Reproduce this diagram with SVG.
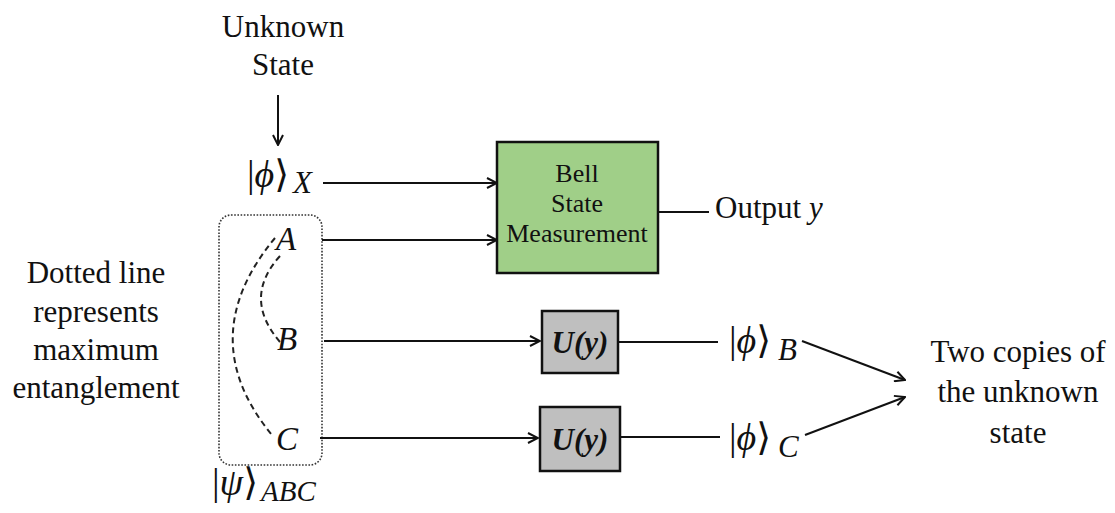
<svg xmlns="http://www.w3.org/2000/svg" width="1115" height="513" viewBox="0 0 1115 513" font-family="'Liberation Serif', 'Times New Roman', Tinos, 'DejaVu Serif', serif">
<defs>
<marker id="arr" markerWidth="12" markerHeight="12" viewBox="0 0 12 12" refX="11" refY="6" orient="auto" markerUnits="userSpaceOnUse">
<path d="M1,1 L11,6 L1,11" fill="none" stroke="#111" stroke-width="2"/>
</marker>
<style>
text{fill:#111}
.lbl{font-size:31px;text-anchor:middle}
.box{font-size:26px;text-anchor:middle}
.math{font-size:38px}
.it{font-style:italic}
.sub{font-size:31px;font-style:italic}
.uy{font-size:31px;font-weight:bold;font-style:italic;text-anchor:middle}
.ln{stroke:#111;stroke-width:2;fill:none}
.arw{stroke:#111;stroke-width:2;fill:none;marker-end:url(#arr)}
.dash{stroke:#222;stroke-width:2;fill:none;stroke-dasharray:6 4}
</style>
</defs>
<rect width="1115" height="513" fill="#fff"/>

<g id="unknown-state">
<text class="lbl" x="283" y="37">Unknown</text>
<text class="lbl" x="283" y="75">State</text>
</g>

<g id="phi-x">
<text class="math" x="247" y="187">|<tspan class="it">ϕ</tspan>⟩<tspan class="sub" dx="4" dy="6">X</tspan></text>
</g>

<g id="entangled-abc">
<rect x="219" y="215" width="103" height="250" rx="12" fill="none" stroke="#333" stroke-width="1.6" stroke-dasharray="1.6 1.6"/>
<text class="math it" x="276" y="250" style="font-size:33px">A</text>
<text class="math it" x="277" y="350" style="font-size:33px">B</text>
<text class="math it" x="276" y="450" style="font-size:33px">C</text>
<path class="dash" d="M275,238 Q192,338 272,435"/>
<path class="dash" d="M280,256 Q242,298 280,342"/>
</g>

<g id="psi-abc">
<text class="math" x="212" y="495">|<tspan class="it">ψ</tspan>⟩<tspan class="sub" dx="3" dy="6" style="font-size:29px">ABC</tspan></text>
</g>

<g id="dotted-note">
<text class="lbl" x="96" y="283">Dotted line</text>
<text class="lbl" x="96" y="322">represents</text>
<text class="lbl" x="96" y="360">maximum</text>
<text class="lbl" x="96" y="398">entanglement</text>
</g>

<g id="bell">
<rect x="497" y="142" width="161" height="131" fill="#a0cf88" stroke="#111" stroke-width="2.5"/>
<text class="box" x="577" y="182">Bell</text>
<text class="box" x="577" y="212">State</text>
<text class="box" x="577" y="242">Measurement</text>
</g>

<g id="output">
<text x="715" y="218" style="font-size:31px">Output <tspan class="it">y</tspan></text>
</g>

<g id="u1">
<rect x="542" y="311" width="76" height="62" fill="#bfbfbf" stroke="#111" stroke-width="2.5"/>
<text class="uy" x="580" y="353">U(y)</text>
</g>

<g id="u2">
<rect x="540" y="407" width="80" height="64" fill="#bfbfbf" stroke="#111" stroke-width="2.5"/>
<text class="uy" x="580" y="450">U(y)</text>
</g>

<g id="phi-b">
<text class="math" x="729" y="353">|<tspan class="it">ϕ</tspan>⟩<tspan class="sub" dx="7" dy="7">B</tspan></text>
</g>

<g id="phi-c">
<text class="math" x="729" y="450">|<tspan class="it">ϕ</tspan>⟩<tspan class="sub" dx="7" dy="7">C</tspan></text>
</g>

<g id="copies">
<text class="lbl" x="1018" y="362">Two copies of</text>
<text class="lbl" x="1018" y="402">the unknown</text>
<text class="lbl" x="1018" y="443">state</text>
</g>

<g id="connectors">
<line class="arw" x1="278" y1="95" x2="278" y2="145"/>
<line class="arw" x1="323" y1="183" x2="497" y2="183"/>
<line class="arw" x1="322" y1="240" x2="497" y2="240"/>
<line class="ln" x1="658" y1="212" x2="709" y2="212"/>
<line class="arw" x1="324" y1="341" x2="540" y2="341"/>
<line class="arw" x1="320" y1="438" x2="538" y2="438"/>
<line class="ln" x1="618" y1="342" x2="718" y2="342"/>
<line class="ln" x1="620" y1="437" x2="720" y2="437"/>
<line class="arw" x1="802" y1="341" x2="905" y2="380"/>
<line class="arw" x1="805" y1="435" x2="905" y2="397"/>
</g>
</svg>
